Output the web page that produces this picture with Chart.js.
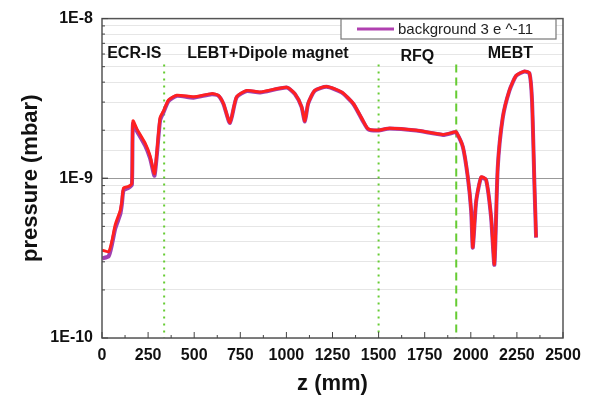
<!DOCTYPE html>
<html><head><meta charset="utf-8">
<script src="https://cdn.jsdelivr.net/npm/chart.js@4.4.1/dist/chart.umd.min.js"></script>
<style>html,body{margin:0;padding:0;background:#fff}#wrap{width:593px;height:401px}</style>
</head><body><div id="wrap"><canvas id="c" width="593" height="401"></canvas></div>
<script>
const zMm = [0,36,54,72,99,108,117,144,162,168,189,234,261,285,315,333,361,405,496,595,631,658,694,730,785,857,1001,1046,1082,1100,1118,1154,1218,1299,1362,1416,1443,1497,1560,1705,1849,1912,1921,1957,1984,2002,2011,2029,2056,2083,2110,2128,2146,2173,2209,2246,2291,2318,2332,2345,2354];
const redPressure = [3.55e-10,3.47e-10,4.07e-10,5.13e-10,6.3e-10,7.2e-10,8.7e-10,8.9e-10,9.3e-10,2.29e-9,2.04e-9,1.66e-9,1.38e-9,1.07e-9,2.4e-9,2.63e-9,3.09e-9,3.31e-9,3.24e-9,3.39e-9,3.31e-9,2.95e-9,2.24e-9,3.24e-9,3.55e-9,3.47e-9,3.72e-9,3.39e-9,2.82e-9,2.29e-9,2.95e-9,3.55e-9,3.76e-9,3.47e-9,2.95e-9,2.29e-9,2.04e-9,2.0e-9,2.06e-9,2.0e-9,1.88e-9,1.95e-9,1.95e-9,1.58e-9,1.02e-9,6.3e-10,3.7e-10,7.2e-10,1.02e-9,9.8e-10,5.75e-10,2.9e-10,1.17e-9,2.4e-9,3.55e-9,4.4e-9,4.68e-9,4.57e-9,3.09e-9,9.3e-10,4.27e-10];
const backgroundPressure = [3.15e-10,3.25e-10,3.85e-10,4.85e-10,5.95e-10,6.9e-10,8.4e-10,8.7e-10,9.1e-10,2.2e-9,1.98e-9,1.6e-9,1.33e-9,1.04e-9,2.3e-9,2.58e-9,3.05e-9,3.28e-9,3.2e-9,3.36e-9,3.29e-9,2.93e-9,2.22e-9,3.21e-9,3.52e-9,3.44e-9,3.7e-9,3.37e-9,2.8e-9,2.27e-9,2.93e-9,3.53e-9,3.74e-9,3.45e-9,2.93e-9,2.27e-9,2.03e-9,1.99e-9,2.05e-9,1.99e-9,1.87e-9,1.94e-9,1.94e-9,1.57e-9,1.01e-9,6.25e-10,3.68e-10,7.15e-10,1.01e-9,9.75e-10,5.7e-10,2.88e-10,1.16e-9,2.38e-9,3.53e-9,4.38e-9,4.66e-9,4.55e-9,3.07e-9,9.2e-10,4.25e-10];
const xTicks = [0,250,500,750,1000,1250,1500,1750,2000,2250,2500];
const yDecadeLabels = {"1e-10":"1E-10","1e-9":"1E-9","1e-8":"1E-8"};
const sectionNames = ["ECR-IS","LEBT+Dipole magnet","RFQ","MEBT"];
const sectionLabelZ = [175,900,1710,2215];
const boundaryZ = [337,1500,1921];
const legendText = "background 3 e ^-11";

const FONT = "'Liberation Sans', Arial, sans-serif";
const redData = zMm.map((z,i)=>({x:z,y:redPressure[i]}));
const bgData = zMm.map((z,i)=>({x:z,y:backgroundPressure[i]}));

const overlay = {
  id:'overlay',
  beforeDatasetsDraw(chart){
    const {ctx, chartArea:a, scales:{x}} = chart;
    ctx.save();
    ctx.strokeStyle = '#66cc33';
    ctx.lineWidth = 2;
    boundaryZ.forEach((z,i)=>{
      const px = x.getPixelForValue(z);
      ctx.setLineDash(i===2 ? [8,5] : [2,5]);
      ctx.beginPath(); ctx.moveTo(px, a.top+46); ctx.lineTo(px, a.bottom); ctx.stroke();
    });
    ctx.restore();
  },
  afterDraw(chart){
    const {ctx, chartArea:a, scales:{x,y}} = chart;
    ctx.save();
    ctx.strokeStyle = '#555'; ctx.lineWidth = 1.5; ctx.setLineDash([]);
    ctx.strokeRect(a.left, a.top, a.right-a.left, a.bottom-a.top);
    ctx.strokeStyle = '#444'; ctx.lineWidth = 1;
    for(let z=0; z<=2500; z+=125){
      const px = x.getPixelForValue(z);
      const len = (z%250===0)?6:3;
      ctx.beginPath(); ctx.moveTo(px,a.bottom); ctx.lineTo(px,a.bottom-len); ctx.stroke();
    }
    [1e-10,1e-9].forEach(d=>{
      for(let m=1;m<=10;m++){
        const v=d*m; const py=y.getPixelForValue(v);
        const len=(m===1||m===10)?6:3;
        ctx.beginPath(); ctx.moveTo(a.left,py); ctx.lineTo(a.left+len,py); ctx.stroke();
      }
    });
    ctx.fillStyle = '#111';
    ctx.font = 'bold 16px ' + FONT;
    ctx.textAlign = 'center'; ctx.textBaseline = 'middle';
    sectionNames.forEach((t,i)=>{
      const py = (i===2) ? a.top+38 : a.top+35;
      ctx.fillText(t, x.getPixelForValue(sectionLabelZ[i]), py);
    });
    const lx = 341, ly = 19, lw = 215, lh = 20;
    ctx.fillStyle='#fff'; ctx.fillRect(lx,ly,lw,lh);
    ctx.strokeStyle='#777'; ctx.lineWidth=1.2; ctx.strokeRect(lx,ly,lw,lh);
    ctx.strokeStyle='#b040b0'; ctx.lineWidth=3;
    ctx.beginPath(); ctx.moveTo(357,ly+10); ctx.lineTo(394,ly+10); ctx.stroke();
    ctx.fillStyle='#222'; ctx.font='15px ' + FONT; ctx.textAlign='left';
    ctx.fillText(legendText, 398, ly+10.5);
    ctx.restore();
  }
};

new Chart(document.getElementById('c'), {
  type:'line',
  data:{datasets:[
    {label:'red', data:redData, borderColor:'#ff2020', borderWidth:3, pointRadius:0, tension:0.2, order:1},
    {label:legendText, data:bgData, borderColor:'#a040b0', borderWidth:4, pointRadius:0, tension:0.2, order:2}
  ]},
  options:{
    responsive:false, animation:false,
    layout:{padding:{left:14,top:18,right:30,bottom:0}},
    plugins:{legend:{display:false}, tooltip:{enabled:false}},
    scales:{
      x:{type:'linear', min:0, max:2500,
        afterBuildTicks(s){ s.ticks = xTicks.map(v=>({value:v})); },
        afterFit(s){ s.height = 63; },
        grid:{display:false, drawTicks:false},
        border:{display:false},
        ticks:{color:'#111', font:{family:FONT, size:16, weight:'bold'}, padding:8, maxRotation:0, autoSkip:false,
          callback(v){ return String(v); }},
        title:{display:true, text:'z (mm)', color:'#111', font:{family:FONT, size:22, weight:'bold'}, padding:{top:8}}
      },
      y:{type:'logarithmic', min:1e-10, max:1e-8,
        afterFit(s){ s.width = 88; },
        grid:{drawTicks:false, lineWidth:1,
          color(c){ const v=c.tick && c.tick.value; if(v && Math.abs(v-1e-9)/1e-9<1e-6) return '#999'; return '#e6e6e6'; }},
        border:{display:false},
        ticks:{color:'#111', font:{family:FONT, size:16, weight:'bold'}, padding:9, autoSkip:false,
          callback(v){ const l = Math.log10(v); if(Math.abs(l-Math.round(l))<1e-6) return yDecadeLabels['1e'+Math.round(l)]; return ''; }},
        title:{display:true, text:'pressure (mbar)', color:'#111', font:{family:FONT, size:22, weight:'bold'}, padding:{bottom:4}}
      }
    }
  },
  plugins:[overlay]
});
</script></body></html>
